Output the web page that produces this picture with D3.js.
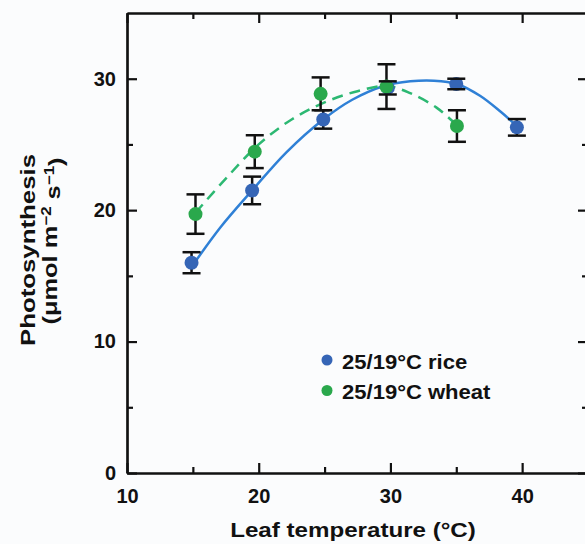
<!DOCTYPE html>
<html>
<head>
<meta charset="utf-8">
<script src="https://cdn.jsdelivr.net/npm/d3@7"></script>
<style>
  body { margin: 0; background: #fbfcfd; }
  text { font-family: "Liberation Sans", Arial, sans-serif; font-weight: bold; fill: #111; }
</style>
</head>
<body>
<div id="chart"></div>
<script>
// measured points (leaf temperature, photosynthesis, +/- error)
const riceTemp = [14.9, 19.5, 24.9, 29.8, 35.0, 39.6];
const riceRate = [16.0, 21.5, 26.9, 29.3, 29.6, 26.3];
const riceErr  = [0.8, 1.05, 0.7, 0.5, 0.4, 0.63];

const wheatTemp = [15.2, 19.7, 24.7, 29.7, 35.05];
const wheatRate = [19.7, 24.45, 28.85, 29.4, 26.4];
const wheatErr  = [1.5, 1.25, 1.25, 1.7, 1.2];

// fitted curves
const riceFitT = [15.2, 17.1, 19.5, 22.1, 24.9, 27.1, 29.5, 31.5, 33.3, 35.05, 36.8, 38.35, 39.6];
const riceFitY = [16.1, 18.7, 21.5, 24.4, 26.9, 28.4, 29.45, 29.8, 29.85, 29.6, 28.7, 27.5, 26.4];
const wheatFitT = [15.2, 17.5, 20, 22.5, 25, 27.5, 29.7, 31.5, 33.5, 35];
const wheatFitY = [19.8, 22.4, 25.0, 26.9, 28.2, 29.05, 29.45, 28.9, 27.8, 26.5];

const xMajor = [10, 20, 30, 40], xMinor = [15, 25, 35];
const yMajor = [0, 10, 20, 30], yMinor = [5, 15, 25];
const legendLabels = ["25/19\u00b0C rice", "25/19\u00b0C wheat"];

const width = 585, height = 544,
  margin = {top: 13, left: 127, right: -3, bottom: 71};

const riceDot = "#3565b6", riceLine = "#2f80d6",
  wheatDot = "#2aa84c", wheatLine = "#2cb872";

const svg = d3.select("#chart").append("svg")
  .attr("width", width).attr("height", height);

const x = d3.scaleLinear().domain([10, 45]).range([margin.left, width - margin.right]);
const y = d3.scaleLinear().domain([0, 35]).range([height - margin.bottom, margin.top]);

function styleAxis(g) {
  g.selectAll("path, line").attr("stroke", "#111").attr("stroke-width", 2.2);
  g.selectAll("text").style("font-size", "20px");
}

// bottom / top
svg.append("g").attr("transform", `translate(0,${y(0)})`)
  .call(d3.axisBottom(x).tickValues(xMajor).tickSizeInner(-10).tickSizeOuter(0).tickPadding(16).tickFormat(d3.format("d")))
  .call(styleAxis);
svg.append("g").attr("transform", `translate(0,${y(0)})`)
  .call(d3.axisBottom(x).tickValues(xMinor).tickSizeInner(-6).tickSizeOuter(0).tickFormat(""))
  .call(styleAxis);
svg.append("g").attr("transform", `translate(0,${y(35)})`)
  .call(d3.axisTop(x).tickValues(xMajor).tickSizeInner(-10).tickSizeOuter(0).tickFormat(""))
  .call(styleAxis);
svg.append("g").attr("transform", `translate(0,${y(35)})`)
  .call(d3.axisTop(x).tickValues(xMinor).tickSizeInner(-6).tickSizeOuter(0).tickFormat(""))
  .call(styleAxis);

// left / right
svg.append("g").attr("transform", `translate(${x(10)},0)`)
  .call(d3.axisLeft(y).tickValues(yMajor).tickSizeInner(-10).tickSizeOuter(0).tickPadding(11).tickFormat(d3.format("d")))
  .call(styleAxis);
svg.append("g").attr("transform", `translate(${x(10)},0)`)
  .call(d3.axisLeft(y).tickValues(yMinor).tickSizeInner(-6).tickSizeOuter(0).tickFormat(""))
  .call(styleAxis);
svg.append("g").attr("transform", `translate(${x(45)},0)`)
  .call(d3.axisRight(y).tickValues(yMajor).tickSizeInner(-10).tickSizeOuter(0).tickFormat(""))
  .call(styleAxis);
svg.append("g").attr("transform", `translate(${x(45)},0)`)
  .call(d3.axisRight(y).tickValues(yMinor).tickSizeInner(-6).tickSizeOuter(0).tickFormat(""))
  .call(styleAxis);

// fitted curves
const line = d3.line().x(d => x(d[0])).y(d => y(d[1])).curve(d3.curveCatmullRom);

svg.append("path")
  .attr("d", line(d3.zip(riceFitT, riceFitY)))
  .attr("fill", "none").attr("stroke", riceLine).attr("stroke-width", 2.5);

svg.append("path")
  .attr("d", line(d3.zip(wheatFitT, wheatFitY)))
  .attr("fill", "none").attr("stroke", wheatLine).attr("stroke-width", 2.5)
  .attr("stroke-dasharray", "11,7");

const rice = d3.zip(riceTemp, riceRate, riceErr);
const wheat = d3.zip(wheatTemp, wheatRate, wheatErr);
const all = rice.concat(wheat);

// error bar stems
svg.selectAll(".stem").data(all).enter().append("line")
  .attr("class", "stem")
  .attr("x1", d => x(d[0])).attr("x2", d => x(d[0]))
  .attr("y1", d => y(d[1] - d[2])).attr("y2", d => y(d[1] + d[2]))
  .attr("stroke", "#111").attr("stroke-width", 2.5);

// points
svg.selectAll(".rice").data(rice).enter().append("circle")
  .attr("class", "rice")
  .attr("cx", d => x(d[0])).attr("cy", d => y(d[1])).attr("r", 7)
  .attr("fill", riceDot);
svg.selectAll(".wheat").data(wheat).enter().append("circle")
  .attr("class", "wheat")
  .attr("cx", d => x(d[0])).attr("cy", d => y(d[1])).attr("r", 7)
  .attr("fill", wheatDot);

// caps on top
const caps = all.flatMap(d => [[d[0], d[1] - d[2]], [d[0], d[1] + d[2]]]);
svg.selectAll(".cap").data(caps).enter().append("line")
  .attr("class", "cap")
  .attr("x1", d => x(d[0]) - 9).attr("x2", d => x(d[0]) + 9)
  .attr("y1", d => y(d[1])).attr("y2", d => y(d[1]))
  .attr("stroke", "#111").attr("stroke-width", 2.5);

// legend
const legend = svg.append("g");
legend.selectAll("circle").data(legendLabels).enter().append("circle")
  .attr("cx", 327).attr("cy", (d, i) => 360 + i * 30.5).attr("r", 5.5)
  .attr("fill", (d, i) => i ? wheatDot : riceDot);
legend.selectAll("text").data(legendLabels).enter().append("text")
  .attr("transform", (d, i) => `translate(342,${368.5 + i * 30.5}) scale(1.05,1)`)
  .style("font-size", "21px")
  .text(d => d);

// axis titles
svg.append("text")
  .attr("transform", "translate(353,536.5) scale(1.15,1)")
  .attr("text-anchor", "middle")
  .style("font-size", "21px")
  .text("Leaf temperature (\u00b0C)");

svg.append("text")
  .attr("transform", "translate(35,250) rotate(-90) scale(1.23,1)")
  .attr("text-anchor", "middle")
  .style("font-size", "21px")
  .text("Photosynthesis");

const yl2 = svg.append("text")
  .attr("transform", "translate(57,241) rotate(-90) scale(1.21,1)")
  .attr("text-anchor", "middle")
  .style("font-size", "21px");
yl2.append("tspan").text("(\u03bcmol m");
yl2.append("tspan").attr("dy", "-0.45em").style("font-size", "14px").text("\u22122");
yl2.append("tspan").attr("dy", "0.45em").text(" s");
yl2.append("tspan").attr("dy", "-0.45em").style("font-size", "14px").text("\u22121");
yl2.append("tspan").attr("dy", "0.45em").text(")");
</script>
</body>
</html>
